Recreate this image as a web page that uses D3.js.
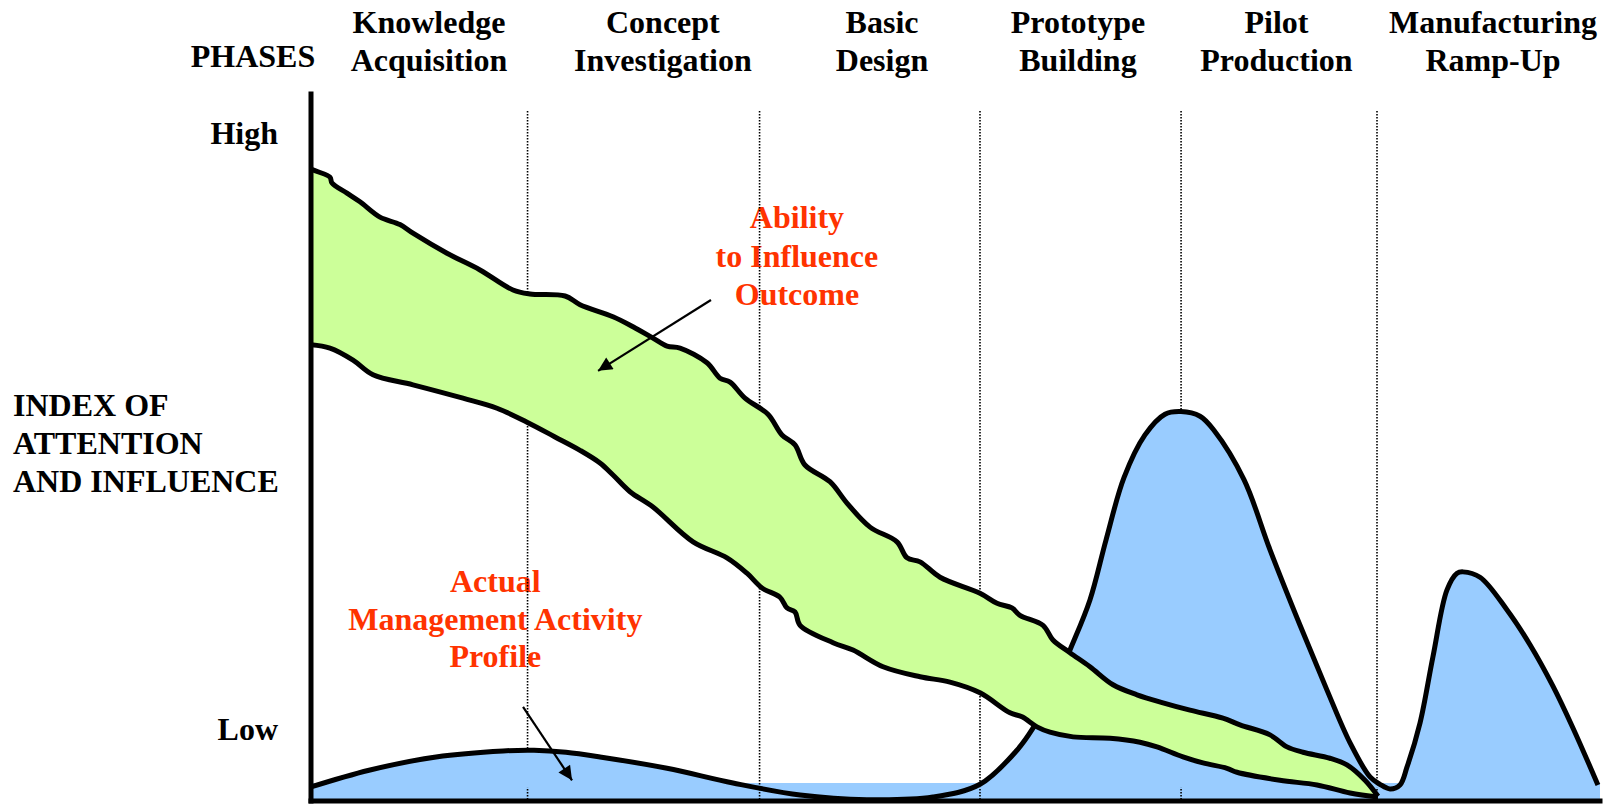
<!DOCTYPE html>
<html>
<head>
<meta charset="utf-8">
<script src="https://cdn.jsdelivr.net/npm/d3@7"></script>
<style>
  body { margin: 0; background: #fff; }
  text { font-family: "Liberation Serif", "Times New Roman", serif; font-weight: bold; font-size: 32px; }
</style>
</head>
<body>
<div id="chart"></div>
<script>
// time runs 0..100 along the development process, index 0..100 (High = 100)
const phases = [
  ["Knowledge", "Acquisition"],
  ["Concept", "Investigation"],
  ["Basic", "Design"],
  ["Prototype", "Building"],
  ["Pilot", "Production"],
  ["Manufacturing", "Ramp-Up"]
];
const phaseLabelAt = [9.15, 27.3, 44.3, 59.5, 74.9, 91.7];
const phaseEnds = [16.8, 34.8, 51.9, 67.5, 82.7];
const yTicks = [ {label : "High", value : 100}, {label : "Low", value : 10.8} ];
const leftTitle = [ "INDEX OF", "ATTENTION", "AND INFLUENCE" ];
const abilityLabel = [ "Ability", "to Influence", "Outcome" ];
const activityLabel = [ "Actual", "Management Activity", "Profile" ];

// ability to influence outcome: upper and lower edge of the band
const abilityUpper = [
  [0, 94.6], [0.54, 94.2], [1.47, 93.4], [1.63, 92.5], [2.79, 91.0], [3.8, 89.7],
  [5.35, 87.4], [6.9, 86.3], [7.91, 85.0], [10.55, 82.0], [13.11, 79.5],
  [15.67, 76.5], [16.99, 75.9], [19.71, 75.6], [20.87, 74.3], [23.43, 72.5],
  [24.98, 71.0], [26.53, 69.3], [27.62, 68.1], [28.63, 67.8], [30.72, 65.6],
  [31.73, 63.3], [32.51, 62.7], [33.67, 60.3], [35.45, 57.9], [36.54, 54.8],
  [37.55, 53.3], [38.32, 50.3], [40.26, 47.8], [41.58, 44.6], [43.37, 41.0],
  [45.46, 38.8], [46.24, 36.4], [47.25, 35.8], [48.8, 33.5], [51.9, 31.1],
  [53.22, 29.6], [54.38, 28.9], [55.0, 27.8], [56.79, 26.3], [57.56, 24.1],
  [58.88, 22.2], [60.43, 20.1], [62.22, 17.4], [64.08, 15.9], [66.1, 14.7],
  [68.19, 13.6], [70.75, 12.4], [72.07, 11.4], [74.4, 9.9], [75.72, 8.1],
  [76.96, 7.3], [79.05, 6.4], [80.37, 5.4], [81.77, 3.1], [82.78, 0.7]
];
const abilityLower = [
  [0, 68.3], [1.47, 67.8], [3.26, 66.0], [4.81, 63.8], [7.91, 62.3], [11.79, 60.3],
  [14.43, 58.8], [16.76, 56.7], [18.93, 54.5], [20.87, 52.5], [22.42, 50.6],
  [23.43, 48.8], [24.75, 46.3], [26.53, 44.0], [29.64, 38.8], [32.27, 36.4],
  [33.82, 34.1], [34.99, 31.9], [36.38, 30.5], [36.93, 28.9], [37.55, 28.3],
  [37.94, 26.3], [40.5, 23.7], [42.05, 22.6], [44.38, 20.1], [47.25, 18.6],
  [49.57, 17.8], [51.9, 16.2], [54.23, 13.2], [55.16, 12.6], [56.32, 11.1],
  [57.33, 10.3], [59.12, 9.6], [61.99, 9.4], [64.31, 8.8], [65.63, 8.1],
  [67.65, 6.6], [69.2, 5.7], [71.06, 4.9], [71.84, 4.3], [75.17, 3.1],
  [78.05, 2.4], [80.61, 1.2], [82.78, 0.6]
];

// actual management activity profile
const activity = [
  [0, 2.1], [4.5, 4.6], [9.7, 6.6], [14.9, 7.5], [17.3, 7.6], [19.78, 7.3],
  [22.42, 6.6], [27.62, 4.9], [32.74, 2.7], [37.94, 0.9], [43.13, 0.2],
  [48.25, 0.6], [51.9, 2.5], [54.77, 7.6], [56.01, 10.9], [57.33, 15.6],
  [58.88, 22.6], [60.43, 30.1], [61.68, 39.1], [63.07, 48.4], [64.7, 54.8],
  [66.25, 57.9], [67.49, 58.3], [68.97, 57.6], [70.05, 55.5], [72.38, 48.1],
  [74.4, 37.6], [76.73, 26.3], [78.82, 16.6], [80.61, 8.7], [82.16, 3.6],
  [82.93, 2.5], [83.71, 1.8], [84.48, 2.4], [85.03, 5.1], [86.04, 11.7],
  [87.04, 21.6], [88.13, 31.6], [88.91, 34.1], [89.37, 34.3], [90.69, 33.5],
  [92.79, 28.6], [94.57, 23.4], [96.35, 17.2], [97.91, 10.9], [99.84, 2.4]
];
const activityBase = 2.0;
const floorLevel = 2.7;

const width = 1608, height = 805;
const svg = d3.select("#chart").append("svg")
                .attr("width", width)
                .attr("height", height);

const x = d3.scaleLinear().domain([ 0, 100 ]).range([ 311, 1600 ]);
const y = d3.scaleLinear().domain([ 0, 100 ]).range([ 801, 133 ]);

svg.append("defs").append("marker")
    .attr("id", "head")
    .attr("viewBox", "0 0 10 10")
    .attr("refX", 10)
    .attr("refY", 5)
    .attr("markerWidth", 20)
    .attr("markerHeight", 14)
    .attr("markerUnits", "userSpaceOnUse")
    .attr("orient", "auto")
    .append("path")
    .attr("d", "M0,0L10,5L0,10Z")
    .attr("fill", "#000");

// header
const header = svg.append("g");
phases.forEach((p, i) => {
  const t = header.append("text")
                .attr("text-anchor", "middle")
                .attr("x", x(phaseLabelAt[i]));
  t.append("tspan").attr("x", x(phaseLabelAt[i])).attr("y", 33).text(p[0]);
  t.append("tspan").attr("x", x(phaseLabelAt[i])).attr("y", 71).text(p[1]);
});
header.append("text")
    .attr("x", 253)
    .attr("y", 67)
    .attr("text-anchor", "middle")
    .text("PHASES");

// left side
svg.selectAll("text.tick")
    .data(yTicks)
    .join("text")
    .attr("class", "tick")
    .attr("x", 278)
    .attr("y", d => y(d.value))
    .attr("dy", "0.34em")
    .attr("text-anchor", "end")
    .text(d => d.label);

svg.selectAll("text.title")
    .data(leftTitle)
    .join("text")
    .attr("class", "title")
    .attr("x", 13)
    .attr("y", (d, i) => 416 + i * 38)
    .text(d => d);

// red annotations
function redLabel(lines, t, top, step) {
  svg.append("g").selectAll("text")
      .data(lines)
      .join("text")
      .attr("x", x(t))
      .attr("y", (d, i) => top + i * step)
      .attr("text-anchor", "middle")
      .attr("fill", "#FF3300")
      .text(d => d);
}
redLabel(abilityLabel, 37.7, 228, 38.5);
redLabel(activityLabel, 14.3, 592, 37.5);

const smooth = d3.curveCatmullRom.alpha(0.5);

// thin blue floor under the dividers
svg.append("path")
    .datum([ 0, 100 ])
    .attr("fill", "#99CCFF")
    .attr("d", d3.area().x(d => x(d)).y0(y(0)).y1(y(floorLevel)));

svg.selectAll("line.divider")
    .data(phaseEnds)
    .join("line")
    .attr("class", "divider")
    .attr("x1", d => x(d))
    .attr("x2", d => x(d))
    .attr("y1", 111)
    .attr("y2", y(0))
    .attr("stroke", "#000")
    .attr("stroke-width", 1.6)
    .attr("stroke-dasharray", "1.5,1.5");

// activity profile
svg.append("path")
    .datum(activity)
    .attr("fill", "#99CCFF")
    .attr("d", d3.area()
                   .x(d => x(d[0]))
                   .y0(y(activityBase))
                   .y1(d => y(d[1]))
                   .curve(smooth));

const edge = d3.line().x(d => x(d[0])).y(d => y(d[1])).curve(smooth);

svg.append("path")
    .datum(activity)
    .attr("fill", "none")
    .attr("stroke", "#000")
    .attr("stroke-width", 5)
    .attr("stroke-linejoin", "round")
    .attr("d", edge);

// ability band
const bandPath = edge(abilityUpper) +
                 edge(abilityLower.slice().reverse()).replace(/^M/, "L") + "Z";
svg.append("path").attr("d", bandPath).attr("fill", "#CCFF99");

[abilityUpper, abilityLower].forEach(edgeData => {
  svg.append("path")
      .datum(edgeData)
      .attr("fill", "none")
      .attr("stroke", "#000")
      .attr("stroke-width", 5)
      .attr("stroke-linejoin", "round")
      .attr("d", edge);
});

// arrows
const arrows = [ [ [31.03, 75.0], [22.27, 64.4] ], [ [16.45, 14.1], [20.25, 3.1] ] ];
svg.selectAll("line.arrow")
    .data(arrows)
    .join("line")
    .attr("class", "arrow")
    .attr("x1", d => x(d[0][0]))
    .attr("y1", d => y(d[0][1]))
    .attr("x2", d => x(d[1][0]))
    .attr("y2", d => y(d[1][1]))
    .attr("stroke", "#000")
    .attr("stroke-width", 2.2)
    .attr("marker-end", "url(#head)");

// axes
svg.append("line")
    .attr("x1", x(0)).attr("x2", x(0))
    .attr("y1", 94).attr("y2", y(0))
    .attr("stroke", "#000")
    .attr("stroke-width", 5)
    .attr("stroke-linecap", "square");
svg.append("line")
    .attr("x1", x(0)).attr("x2", x(100))
    .attr("y1", y(0)).attr("y2", y(0))
    .attr("stroke", "#000")
    .attr("stroke-width", 5)
    .attr("stroke-linecap", "square");
</script>
</body>
</html>
